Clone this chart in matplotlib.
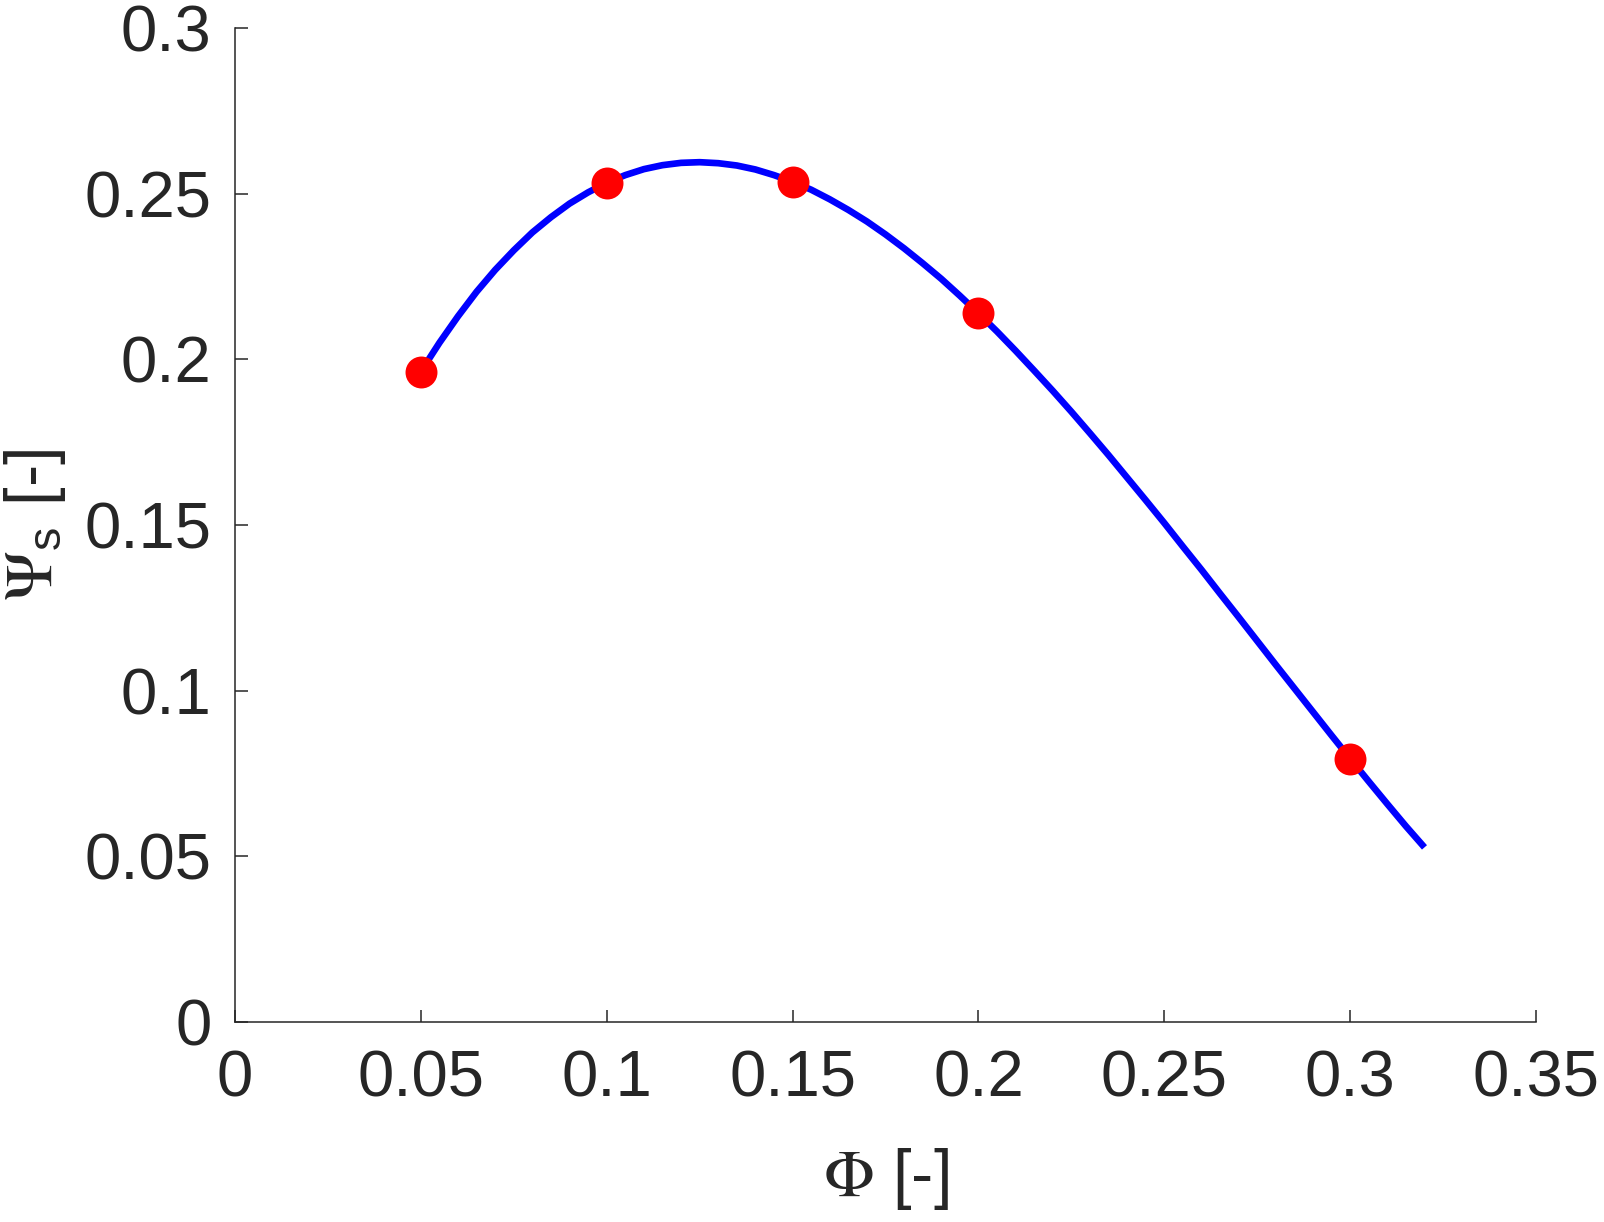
import matplotlib
matplotlib.use("Agg")
import matplotlib.pyplot as plt

# measured points
phi_pts = [0.05, 0.10, 0.15, 0.20, 0.30]
psi_pts = [0.1963, 0.2533, 0.2536, 0.2139, 0.0795]

# fitted curve
phi_curve = [0.050, 0.055, 0.060, 0.065, 0.070, 0.075, 0.080, 0.085, 0.090, 0.095,
             0.100, 0.105, 0.110, 0.115, 0.120, 0.125, 0.130, 0.135, 0.140, 0.145,
             0.150, 0.155, 0.160, 0.165, 0.170, 0.175, 0.180, 0.185, 0.190, 0.195,
             0.200, 0.205, 0.210, 0.215, 0.220, 0.225, 0.230, 0.235, 0.240, 0.245,
             0.250, 0.255, 0.260, 0.265, 0.270, 0.275, 0.280, 0.285, 0.290, 0.295,
             0.300, 0.305, 0.310, 0.315, 0.320]
psi_curve = [0.1963, 0.2050, 0.2130, 0.2204, 0.2270, 0.2329, 0.2383, 0.2429, 0.2470, 0.2504,
             0.2533, 0.2556, 0.2574, 0.2586, 0.2593, 0.2595, 0.2592, 0.2585, 0.2573, 0.2556,
             0.2536, 0.2512, 0.2483, 0.2451, 0.2416, 0.2377, 0.2335, 0.2290, 0.2243, 0.2192,
             0.2139, 0.2084, 0.2026, 0.1966, 0.1905, 0.1842, 0.1777, 0.1711, 0.1643, 0.1575,
             0.1506, 0.1435, 0.1365, 0.1293, 0.1222, 0.1150, 0.1078, 0.1007, 0.0936, 0.0865,
             0.0795, 0.0726, 0.0658, 0.0591, 0.0527]

xticks = [0, 0.05, 0.1, 0.15, 0.2, 0.25, 0.3, 0.35]
xtick_labels = ["0", "0.05", "0.1", "0.15", "0.2", "0.25", "0.3", "0.35"]
yticks = [0, 0.05, 0.1, 0.15, 0.2, 0.25, 0.3]
ytick_labels = ["0", "0.05", "0.1", "0.15", "0.2", "0.25", "0.3"]

plt.rcParams['font.family'] = ['Liberation Sans', 'DejaVu Sans']
plt.rcParams['mathtext.fontset'] = 'stix'

dark = '#262626'
fig = plt.figure(figsize=(16.04, 12.22), dpi=100)
ax = fig.add_axes([235 / 1604, 1 - 1022 / 1222, (1536 - 235) / 1604, (1022 - 28) / 1222])

ax.plot(phi_curve, psi_curve, color='#0000ff', lw=4.8, solid_capstyle='butt',
        solid_joinstyle='round', zorder=2)
ax.plot(phi_pts, psi_pts, 'o', color='#ff0000', markersize=23, markeredgewidth=0, zorder=3)

ax.set_xlim(0, 0.35)
ax.set_ylim(0, 0.3)
ax.set_xticks(xticks)
ax.set_xticklabels(xtick_labels)
ax.set_yticks(yticks)
ax.set_yticklabels(ytick_labels)

for s in ['top', 'right']:
    ax.spines[s].set_visible(False)
for s in ['left', 'bottom']:
    ax.spines[s].set_color(dark)
    ax.spines[s].set_linewidth(1.1)

ax.tick_params(axis='both', direction='in', length=9, width=1.1, colors=dark,
               labelsize=47, labelcolor=dark)
ax.tick_params(axis='x', pad=20)
ax.tick_params(axis='y', pad=17)

ax.set_xlabel(r'$\mathrm{\Phi}$ [-]', fontsize=48, color=dark, labelpad=26)
ax.set_ylabel(r'$\mathrm{\Psi}_{\mathregular{s}}$ [-]', fontsize=48, color=dark, labelpad=12)

fig.savefig('out.png', dpi=100, facecolor='white')
